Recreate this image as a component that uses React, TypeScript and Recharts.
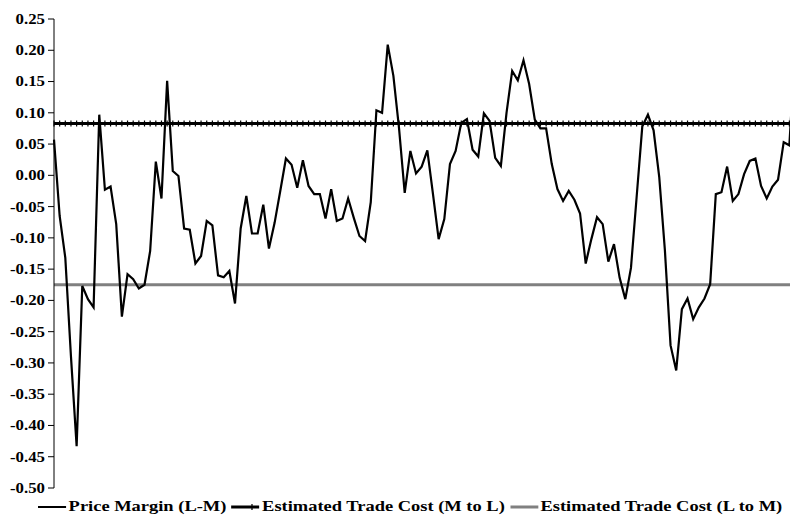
import { Legend, Line, LineChart, XAxis, YAxis } from "recharts";

// Price margin (L-M), one value per period
const PRICE_MARGIN = [
  0.057, -0.065, -0.132, -0.29, -0.433, -0.177, -0.198, -0.211, 0.097, -0.023,
  -0.018, -0.078, -0.226, -0.158, -0.166, -0.181, -0.175, -0.121, 0.022, -0.037,
  0.151, 0.007, -0.001, -0.085, -0.087, -0.141, -0.129, -0.073, -0.08, -0.16,
  -0.163, -0.153, -0.205, -0.085, -0.033, -0.093, -0.093, -0.047, -0.117, -0.076,
  -0.025, 0.027, 0.017, -0.02, 0.024, -0.017, -0.03, -0.03, -0.069, -0.022,
  -0.073, -0.069, -0.037, -0.068, -0.097, -0.105, -0.043, 0.104, 0.1, 0.209,
  0.159, 0.075, -0.028, 0.039, 0.003, 0.014, 0.04, -0.03, -0.102, -0.07,
  0.018, 0.039, 0.084, 0.09, 0.041, 0.03, 0.099, 0.087, 0.028, 0.015,
  0.1, 0.167, 0.152, 0.184, 0.146, 0.089, 0.075, 0.075, 0.018, -0.022,
  -0.041, -0.025, -0.039, -0.061, -0.141, -0.102, -0.067, -0.078, -0.138, -0.11,
  -0.164, -0.198, -0.148, -0.035, 0.078, 0.097, 0.072, -0.003, -0.12, -0.272,
  -0.312, -0.214, -0.197, -0.23, -0.211, -0.197, -0.174, -0.03, -0.027, 0.014,
  -0.041, -0.03, 0.002, 0.023, 0.027, -0.017, -0.037, -0.018, -0.007, 0.053,
  0.048, 0.2,
];

// estimated trade costs (constant bands)
const TRADE_COST_M_TO_L = 0.083;
const TRADE_COST_L_TO_M = -0.175;

const Y_TICKS = [
  0.25, 0.2, 0.15, 0.1, 0.05, 0, -0.05, -0.1, -0.15, -0.2, -0.25, -0.3, -0.35,
  -0.4, -0.45, -0.5,
];

const LABELS = [
  "Price Margin (L-M)",
  "Estimated Trade Cost (M to L)",
  "Estimated Trade Cost (L to M)",
];

const INK = "#000000";
const GREY = "#808080";
const FONT = '"Liberation Serif", "Times New Roman", serif';

const rows = PRICE_MARGIN.map((v, i) => ({
  i,
  margin: v,
  ml: TRADE_COST_M_TO_L,
  lm: TRADE_COST_L_TO_M,
}));

function YTick(props: any) {
  const { x, y, payload } = props;
  return (
    <g transform={`translate(${x},${y})`}>
      <text
        transform="scale(1.2,1)"
        textAnchor="end"
        dy="0.35em"
        fontFamily={FONT}
        fontWeight="bold"
        fontSize={14}
        fill={INK}
      >
        {Number(payload.value).toFixed(2)}
      </text>
    </g>
  );
}

// little vertical dash on every point of the M-to-L line
function Dash(props: any) {
  const { cx, cy, index } = props;
  return (
    <line
      key={`d${index}`}
      x1={cx}
      x2={cx}
      y1={cy - 3}
      y2={cy + 3}
      stroke={INK}
      strokeWidth={1.2}
    />
  );
}

function Swatch({ color, width, dash }: { color: string; width: number; dash?: boolean }) {
  return (
    <svg width={23} height={8} style={{ display: "block" }}>
      <line x1={0} x2={23} y1={4} y2={4} stroke={color} strokeWidth={width} />
      {dash && <line x1={17} x2={17} y1={1} y2={7} stroke={color} strokeWidth={1} />}
    </svg>
  );
}

function LegendRow() {
  const item = { display: "flex", alignItems: "center", gap: 2, marginRight: 4 } as const;
  return (
    <div
      style={{
        display: "flex",
        justifyContent: "center",
        alignItems: "center",
        paddingTop: 10,
        fontFamily: FONT,
        fontWeight: "bold",
        fontSize: 15,
        lineHeight: "17px",
        color: INK,
        transform: "translateX(11px) scaleX(1.23)",
        whiteSpace: "nowrap",
      }}
    >
      <span style={item}>
        <Swatch color={INK} width={2} />
        {LABELS[0]}
      </span>
      <span style={item}>
        <Swatch color={INK} width={3} dash />
        {LABELS[1]}
      </span>
      <span style={item}>
        <Swatch color={GREY} width={3} />
        {LABELS[2]}
      </span>
    </div>
  );
}

export default function App() {
  // fixed frame: the last period runs past the right edge and is cut off there
  return (
    <div
      style={{
        position: "fixed",
        left: 8,
        top: 8,
        width: 782,
        height: 511,
        overflow: "hidden",
        background: "#fff",
      }}
    >
      <LineChart
        width={787}
        height={511}
        data={rows}
        margin={{ top: 11, right: 0, bottom: 0, left: 0 }}
      >
        <XAxis dataKey="i" hide />
        <YAxis
          width={46}
          domain={[-0.5, 0.25]}
          ticks={Y_TICKS}
          interval={0}
          allowDataOverflow
          axisLine={{ stroke: INK, strokeWidth: 1 }}
          tickLine={{ stroke: INK, strokeWidth: 1 }}
          tickSize={6}
          tickMargin={3}
          tick={<YTick />}
        />
        <Line
          dataKey="ml"
          stroke={INK}
          strokeWidth={3}
          dot={Dash}
          activeDot={false}
          isAnimationActive={false}
        />
        <Line
          dataKey="lm"
          stroke={GREY}
          strokeWidth={3}
          dot={false}
          activeDot={false}
          isAnimationActive={false}
        />
        <Line
          dataKey="margin"
          stroke={INK}
          strokeWidth={2.2}
          strokeLinejoin="miter"
          dot={false}
          activeDot={false}
          isAnimationActive={false}
        />
        <Legend
          verticalAlign="bottom"
          wrapperStyle={{ height: 31 }}
          content={<LegendRow />}
        />
      </LineChart>
    </div>
  );
}
